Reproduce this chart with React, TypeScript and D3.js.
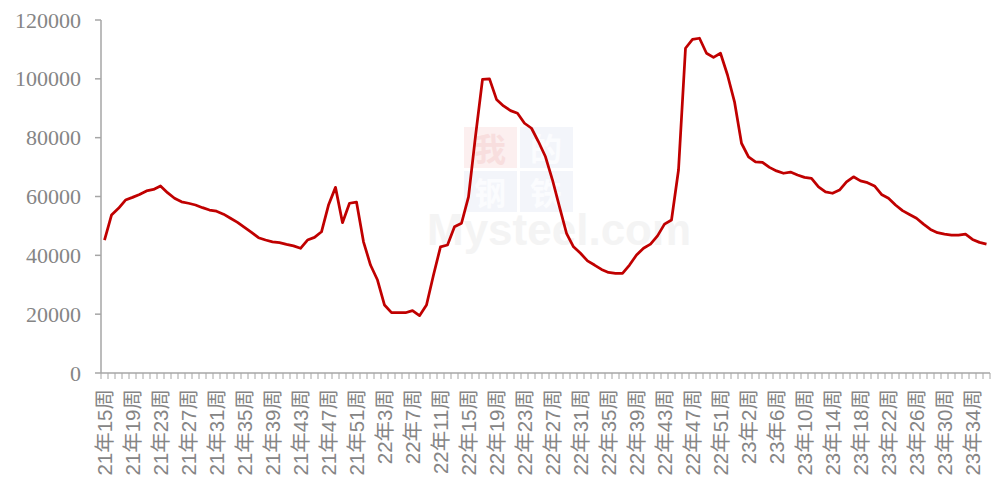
import React, { useEffect, useRef } from 'react';
import * as d3 from 'd3';

// week categories: 21年15周 .. 21年52周, 22年1周 .. 22年53周, 23年1周 .. 23年36周
const weeks2021 = d3.range(15, 53);
const weeks2022 = d3.range(1, 54);
const weeks2023 = d3.range(1, 37);

const categories: string[] = [
    ...weeks2021.map(w => `21年${w}周`),
    ...weeks2022.map(w => `22年${w}周`),
    ...weeks2023.map(w => `23年${w}周`),
];

const values2021 = [
    45200, 53700, 56000, 58800, 59700, 60700, 61900, 62400, 63600, 61300,
    59400, 58200, 57700, 57100, 56200, 55400, 55000, 54000, 52600, 51200,
    49500, 47800, 46000, 45200, 44600, 44300, 43700, 43200, 42400, 45200,
    46100, 48000, 57100, 63100, 51100, 57700, 58100, 44600,
];

const values2022 = [
    36700, 31600, 23100, 20500, 20500, 20500, 21200, 19500, 23100, 33300,
    42900, 43500, 49700, 50900, 59900, 80500, 99800, 100000, 93000, 90800,
    89200, 88300, 84900, 83200, 78600, 73500, 65600, 56500, 47500, 42900,
    40700, 38100, 36700, 35200, 34200, 33900, 33900, 36700, 40100, 42400,
    43800, 46600, 50600, 52000, 69000, 110400, 113400, 113800, 108700, 107300,
    108700, 101300, 92200,
];

const values2023 = [
    78100, 73500, 71800, 71600, 69900, 68700, 67900, 68300, 67300, 66500,
    66200, 63300, 61600, 61100, 62200, 65000, 66700, 65300, 64700, 63600,
    60700, 59400, 57100, 55200, 53900, 52600, 50600, 48800, 47700, 47200,
    46900, 46900, 47200, 45400, 44400, 43800,
];

const values = [...values2021, ...values2022, ...values2023];

const yTicks = [0, 20000, 40000, 60000, 80000, 100000, 120000];

const WIDTH = 991;
const HEIGHT = 486;

const Chart: React.FC = () => {
    const svgRef = useRef<SVGSVGElement>(null);

    useEffect(() => {
        if (!svgRef.current) return;
        const svg = d3.select(svgRef.current);
        svg.selectAll("*").remove();

        const margin = { top: 20, right: 1, bottom: 113, left: 101 };
        const innerWidth = WIDTH - margin.left - margin.right;
        const innerHeight = HEIGHT - margin.top - margin.bottom;
        const axisColor = "#a6a6a6";
        const textColor = "#858585";

        const g = svg.append("g")
            .attr("transform", `translate(${margin.left},${margin.top})`);

        const x = d3.scaleBand<string>()
            .domain(categories)
            .range([0, innerWidth]);

        const y = d3.scaleLinear()
            .domain([0, 120000])
            .range([innerHeight, 0]);

        // watermark (very faint)
        const wm = g.append("g").attr("transform", "translate(363,107)");
        const cells = [
            { c: "我", dx: 0, dy: 0, bg: "#fcefef", fg: "#f8dede" },
            { c: "的", dx: 56, dy: 0, bg: "#f3f5fa", fg: "#fbfcfe" },
            { c: "钢", dx: 0, dy: 44, bg: "#f3f5fa", fg: "#fbfcfe" },
            { c: "铁", dx: 56, dy: 44, bg: "#f3f5fa", fg: "#fbfcfe" },
        ];
        cells.forEach(cell => {
            wm.append("rect")
                .attr("x", cell.dx).attr("y", cell.dy)
                .attr("width", 53).attr("height", 41)
                .attr("fill", cell.bg);
            wm.append("text")
                .attr("x", cell.dx + 26).attr("y", cell.dy + 20)
                .attr("text-anchor", "middle")
                .attr("dominant-baseline", "central")
                .attr("fill", cell.fg)
                .style("font-family", "'Noto Sans CJK SC'")
                .style("font-size", "32px")
                .style("font-weight", "bold")
                .text(cell.c);
        });
        g.append("text")
            .attr("x", 326).attr("y", 225)
            .attr("fill", "#f4f4f4")
            .style("font-family", "'Liberation Sans', Arial")
            .style("font-size", "44px")
            .style("font-weight", "bold")
            .text("Mysteel.com");

        // y axis
        g.append("line")
            .attr("x1", 0).attr("x2", 0)
            .attr("y1", 0).attr("y2", innerHeight)
            .attr("stroke", axisColor).attr("stroke-width", 1.5);

        yTicks.forEach(t => {
            g.append("line")
                .attr("x1", -6).attr("x2", 0)
                .attr("y1", y(t)).attr("y2", y(t))
                .attr("stroke", axisColor).attr("stroke-width", 1.5);
            g.append("text")
                .attr("x", -20)
                .attr("y", y(t))
                .attr("text-anchor", "end")
                .attr("dominant-baseline", "central")
                .attr("fill", textColor)
                .style("font-family", "'Liberation Serif', 'Times New Roman', serif")
                .style("font-size", "22px")
                .text(t);
        });

        // x axis
        g.append("line")
            .attr("x1", 0).attr("x2", innerWidth)
            .attr("y1", innerHeight).attr("y2", innerHeight)
            .attr("stroke", axisColor).attr("stroke-width", 1.5);

        const boundaries = [...categories.map(c => x(c) as number), innerWidth];
        boundaries.forEach(bx => {
            g.append("line")
                .attr("x1", bx).attr("x2", bx)
                .attr("y1", innerHeight).attr("y2", innerHeight + 6)
                .attr("stroke", axisColor).attr("stroke-width", 1);
        });

        categories.forEach((c, i) => {
            if (i % 4 !== 0) return;
            const cx = (x(c) as number) + x.bandwidth() / 2;
            g.append("text")
                .attr("transform", `translate(${cx},${innerHeight + 16}) rotate(-90)`)
                .attr("text-anchor", "end")
                .attr("dominant-baseline", "central")
                .attr("fill", textColor)
                .style("font-family", "'Liberation Sans', 'Noto Sans CJK SC', sans-serif")
                .style("font-size", "20.5px")
                .text(c);
        });

        // line
        const line = d3.line<number>()
            .x((_, i) => (x(categories[i]) as number) + x.bandwidth() / 2)
            .y(d => y(d));

        g.append("path")
            .datum(values)
            .attr("fill", "none")
            .attr("stroke", "#c00000")
            .attr("stroke-width", 2.75)
            .attr("stroke-linejoin", "round")
            .attr("d", line);
    }, []);

    return <svg ref={svgRef} width={WIDTH} height={HEIGHT} style={{ display: 'block', background: '#fff' }} />;
};

export default function App() {
    return (
        <div style={{ position: 'fixed', left: 0, top: 0 }}>
            <Chart />
        </div>
    );
}
